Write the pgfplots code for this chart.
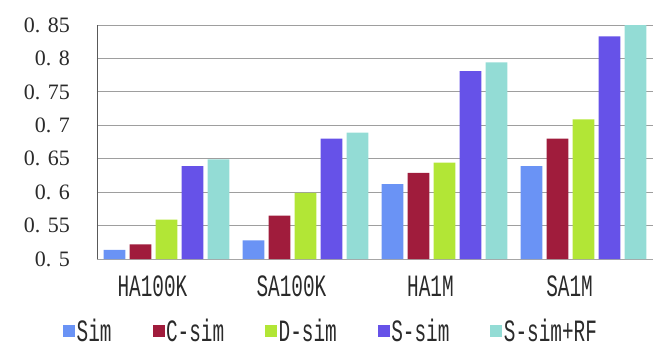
\documentclass[border=0pt]{standalone}
\usepackage{pgfplots}
\pgfplotsset{compat=1.18}
\usepackage{fontspec}
\setmainfont{Liberation Serif}
\newfontfamily\narrowfont[FakeStretch=0.625]{Liberation Mono}
\definecolor{cSim}{HTML}{6A93F5}
\definecolor{cC}{HTML}{A01C3C}
\definecolor{cD}{HTML}{B2E636}
\definecolor{cS}{HTML}{6652E8}
\definecolor{cRF}{HTML}{93DCD5}
\definecolor{txt}{HTML}{2A2A2A}
\begin{document}
\begin{tikzpicture}
\useasboundingbox (-97pt,-98pt) rectangle (569pt,259pt);
\begin{axis}[
  at={(0,0)}, anchor=south west,
  scale only axis, width=556pt, height=234pt,
  ymin=0.5, ymax=0.85, xmin=-0.5, xmax=3.5,
  ybar=4.3pt, bar width=21.7pt,
  xtick={0,1,2,3}, xticklabels={HA100K,SA100K,HA1M,SA1M},
  ytick={0.5,0.55,0.6,0.65,0.7,0.75,0.8,0.85},
  yticklabels={0. 5,0. 55,0. 6,0. 65,0. 7,0. 75,0. 8,0. 85},
  axis x line*=bottom, axis y line*=left,
  axis line style={-},
  x axis line style={draw=gray!70},
  y axis line style={draw=black!65},
  major tick length=0pt,
  ymajorgrids, major grid style={draw=black!38, line width=1pt},
  yticklabel style={font=\fontsize{22}{22}\selectfont, text=txt, xshift=-23.7pt},
  xticklabel style={font=\narrowfont\fontsize{31}{31}\selectfont, text=txt, anchor=base, yshift=-37pt, xshift=-14pt},
  legend columns=5,
  legend style={at={(-0.0612,-0.308)}, anchor=west, draw=none, fill=none, inner sep=0pt,
    font=\narrowfont\fontsize{31}{31}\selectfont, text=txt,
    nodes={inner sep=1.5pt},
    /tikz/every even column/.append style={column sep=39.5pt}},
  legend image code/.code={\fill[#1] (0pt,-6pt) rectangle (12pt,6pt);},
]
\addplot[fill=cSim, draw=none] coordinates {(0,0.5135) (1,0.528) (2,0.612) (3,0.639)};
\addplot[fill=cC, draw=none] coordinates {(0,0.522) (1,0.565) (2,0.629) (3,0.680)};
\addplot[fill=cD, draw=none] coordinates {(0,0.559) (1,0.599) (2,0.644) (3,0.709)};
\addplot[fill=cS, draw=none] coordinates {(0,0.639) (1,0.680) (2,0.781) (3,0.833)};
\addplot[fill=cRF, draw=none] coordinates {(0,0.649) (1,0.689) (2,0.794) (3,0.850)};
\legend{Sim,C-sim,D-sim,S-sim,S-sim+RF}
\end{axis}
\end{tikzpicture}
\end{document}
